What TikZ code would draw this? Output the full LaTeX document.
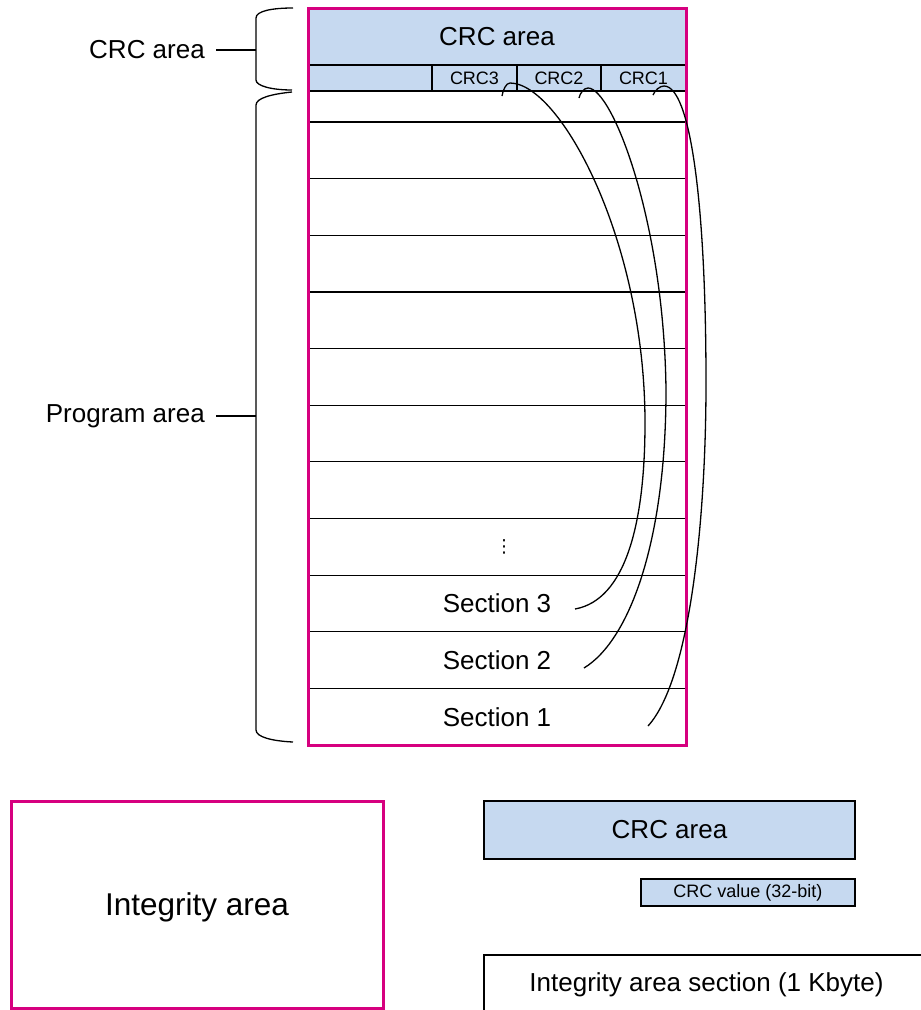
\documentclass[tikz,border=0pt]{standalone}
\usepackage{fontspec}
\setmainfont{Liberation Sans}
\newfontfamily\djv{DejaVu Sans}
\definecolor{pinkb}{HTML}{D6007F}
\definecolor{blueb}{HTML}{C6D9F0}
\newcommand\szM{\fontsize{26}{30}\selectfont}
\newcommand\szS{\fontsize{18}{21}\selectfont}
\newcommand\szXL{\fontsize{31.5}{36}\selectfont}
\begin{document}
\begin{tikzpicture}[x=1pt,y=-1pt,
  cell/.style={draw=black, line width=1.2pt, anchor=north west, inner sep=0pt, outer sep=0pt},
  rowcell/.style={anchor=north west, inner sep=0pt, outer sep=0pt, minimum width=378pt, minimum height=56.64pt},
  bluecell/.style={cell, fill=blueb},
  pinkbox/.style={draw=pinkb, line width=3pt, anchor=north west, inner sep=0pt, outer sep=0pt},
  rule/.style={draw=black, line width=1.2pt},
  link/.style={draw=black, line width=1.3pt},
  brace/.style={draw=black, line width=1.3pt},
  lbl/.style={anchor=east, inner xsep=11pt, inner ysep=0pt, font=\szM}]
\clip (0,0) rectangle (921,1010);
\useasboundingbox (0,0) rectangle (921,1010);

% CRC area header
\node[bluecell, minimum width=378pt, minimum height=57pt, font=\szM] (head) at (308,8) {CRC area};
\node[bluecell, minimum width=124pt, minimum height=26pt] (crc0) at (308,65) {};
\node[bluecell, minimum width=85pt, minimum height=26pt, font=\szS] (crc3) at (432,65) {CRC3};
\node[bluecell, minimum width=84pt, minimum height=26pt, font=\szS] (crc2) at (517,65) {CRC2};
\node[bluecell, minimum width=85pt, minimum height=26pt, font=\szS] (crc1) at (601,65) {CRC1};

% program rows
\node[rowcell, minimum height=31pt] (row0) at (308,91) {};
\foreach \k in {1,...,7}{
  \node[rowcell] (row\k) at (308,{122+(\k-1)*56.64}) {};
}
\node[rowcell] (row8) at (308,518.5) {};
\node[inner sep=0pt] (dots) at (504,547) {\djv\fontsize{18}{20}\selectfont ⋮};
\node[rowcell, font=\szM] (sec3) at (308,575.1) {Section 3};
\node[rowcell, font=\szM] (sec2) at (308,631.8) {Section 2};
\node[rowcell, font=\szM] (sec1) at (308,688.4) {Section 1};
\foreach \r in {row1,row2,row3,row4,row5,row6,row7,row8,sec3,sec2,sec1}{
  \draw[rule] (\r.north west) -- (\r.north east);
}

% pink frame
\node[pinkbox, minimum width=378pt, minimum height=737pt] (mainbox) at (308,8) {};

% links
\coordinate (s3) at (575,609);
\coordinate (s2) at (584,668);
\coordinate (s1) at (648,726);
\coordinate (e3) at (502,96);
\coordinate (e2) at (579,98);
\coordinate (e1) at (653,95);
\draw[link] (s3) .. controls (625,600) and (645,525) .. (645,423)
  .. controls (645,240) and (560,83) .. (510,83)
  .. controls (506,83) and (503,90) .. (e3);
\draw[link] (s2) .. controls (630,640) and (666,540) .. (666,390)
  .. controls (664,220) and (612,88) .. (588,88)
  .. controls (584,88) and (580,93) .. (e2);
\draw[link] (s1) .. controls (690,680) and (706,520) .. (706,383)
  .. controls (706,200) and (690,86) .. (664,86)
  .. controls (660,86) and (655,90) .. (e1);

% braces
\coordinate (b1) at (256,50);
\coordinate (b2) at (256,416);
\draw[brace] (293,8) .. controls (272,8) and (256,11) .. (256,18) -- (256,80)
  .. controls (256,86) and (272,90) .. (292,90);
\draw[brace] (292,92) .. controls (272,94) and (256,98) .. (256,105) -- (256,730)
  .. controls (256,737) and (272,741) .. (293,742);
\node[lbl] (lcrc) at (216,50) {CRC area};
\node[lbl] (lprog) at (216,416) {Program area};
\draw[brace] (lcrc.east) -- (b1);
\draw[brace] (lprog.east) -- (b2);

% legend
\node[pinkbox, minimum width=372pt, minimum height=207pt, font=\szXL, text depth=0pt] (integ) at (11,801) {Integrity area};
\node[bluecell, minimum width=371pt, minimum height=58pt, font=\szM] (lgcrc) at (484,801) {CRC area};
\node[bluecell, minimum width=214pt, minimum height=27pt, font=\szS] (lgval) at (641,879) {CRC value (32-bit)};
\node[cell, minimum width=445pt, minimum height=60pt, font=\szM] (lgsec) at (484,955) {Integrity area section (1 Kbyte)};
\end{tikzpicture}
\end{document}
